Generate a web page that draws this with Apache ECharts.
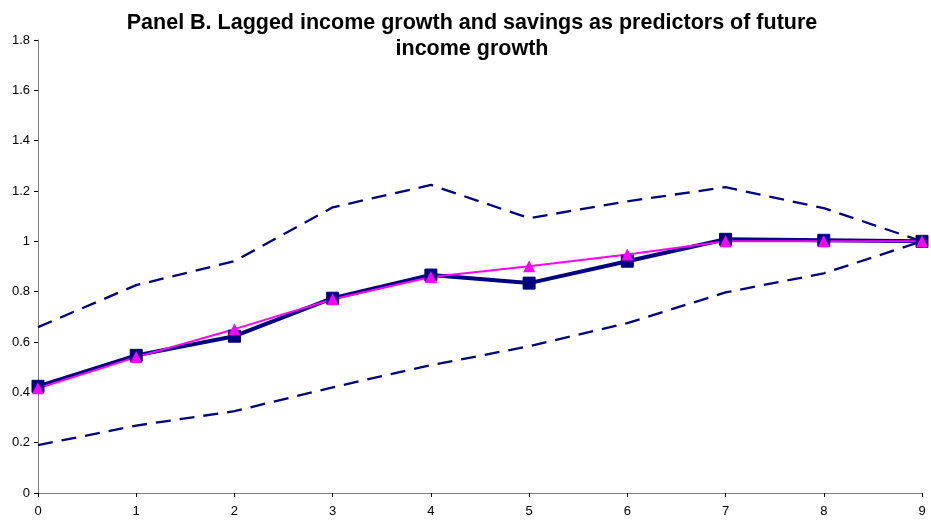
<!DOCTYPE html>
<html>
<head>
<meta charset="utf-8">
<script src="https://cdn.jsdelivr.net/npm/echarts@6/dist/echarts.min.js"></script>
<style>
html,body{margin:0;padding:0;background:#fff;}
#chart{width:931px;height:523px;}
</style>
</head>
<body>
<div id="chart"></div>
<script>
// Horizon (years) on the x axis
const horizons = [0, 1, 2, 3, 4, 5, 6, 7, 8, 9];
// Upper and lower confidence bands
const upperBand = [0.659, 0.826, 0.921, 1.135, 1.224, 1.092, 1.159, 1.215, 1.132, 1.0];
const lowerBand = [0.19, 0.268, 0.325, 0.42, 0.508, 0.583, 0.675, 0.797, 0.873, 1.0];
// Point estimates
const estimateSquares = [0.424, 0.547, 0.623, 0.774, 0.866, 0.834, 0.921, 1.008, 1.004, 1.0];
const estimateTriangles = [0.416, 0.54, 0.651, 0.77, 0.858, 0.901, 0.948, 1.0, 1.0, 1.0];
// Y tick labels
const yTicks = ['0', '0.2', '0.4', '0.6', '0.8', '1', '1.2', '1.4', '1.6', '1.8'];

const pairs = ys => horizons.map((x, i) => [x, ys[i]]);
const navy = '#000080';
const magenta = '#FF00FF';
const font = 'Liberation Sans, Arial, sans-serif';

const chart = echarts.init(document.getElementById('chart'));
chart.setOption({
  animation: false,
  title: {
    text: 'Panel B. Lagged income growth and savings as predictors of future\nincome growth',
    left: 467,
    textAlign: 'center',
    top: 5,
    textStyle: { fontFamily: font, fontSize: 21.5, fontWeight: 'bold', color: '#000', lineHeight: 26 }
  },
  grid: { left: 38, right: 9, top: 40, bottom: 30, containLabel: false },
  xAxis: {
    type: 'value', min: 0, max: 9, interval: 1,
    axisLine: { lineStyle: { color: '#808080', width: 1 } },
    axisTick: { show: true, length: 4, lineStyle: { color: '#000' } },
    axisLabel: { color: '#000', fontFamily: font, fontSize: 13, margin: 12 },
    splitLine: { show: false }
  },
  yAxis: {
    type: 'value', min: 0, max: 1.8, interval: 0.2,
    axisLine: { show: true, lineStyle: { color: '#808080', width: 1 } },
    axisTick: { show: true, length: 4, lineStyle: { color: '#000' } },
    axisLabel: {
      color: '#000', fontFamily: font, fontSize: 13, margin: 8,
      formatter: v => yTicks[Math.round(v / 0.2)]
    },
    splitLine: { show: false }
  },
  series: [
    {
      type: 'line', data: pairs(upperBand), symbol: 'none',
      lineStyle: { color: navy, width: 2.3, type: [15, 9] }
    },
    {
      type: 'line', data: pairs(lowerBand), symbol: 'none',
      lineStyle: { color: navy, width: 2.3, type: [15, 9] }
    },
    {
      type: 'line', data: pairs(estimateSquares), symbol: 'rect', symbolSize: 12,
      lineStyle: { color: navy, width: 4 },
      itemStyle: { color: navy, borderColor: navy }
    },
    {
      type: 'line', data: pairs(estimateTriangles), symbol: 'triangle', symbolSize: 12,
      lineStyle: { color: magenta, width: 2 },
      itemStyle: { color: magenta }
    }
  ]
});
</script>
</body>
</html>
